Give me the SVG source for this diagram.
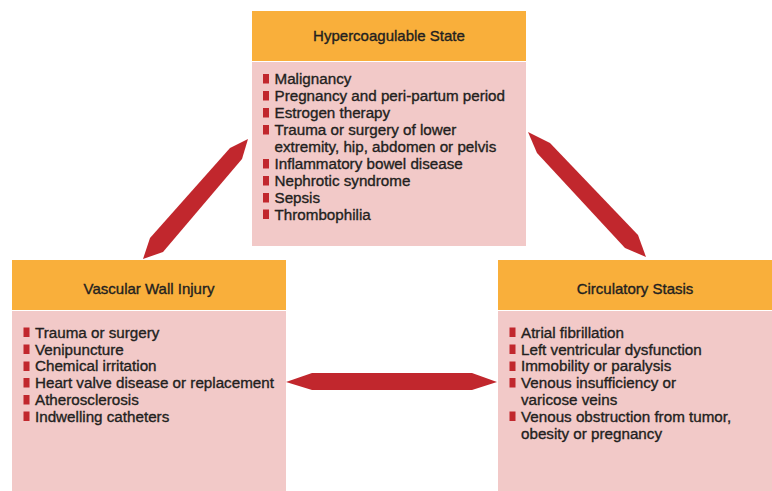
<svg xmlns="http://www.w3.org/2000/svg" width="772" height="491" viewBox="0 0 772 491">
<style>
.hd{fill:#F9AF3B}
.bd{fill:#F2C9C8}
.bl{fill:#C1272D}
.ar{fill:#C1272D}
text{font-family:"Liberation Sans",Arial,sans-serif;fill:#231F20;stroke:#231F20;stroke-width:0.35px}
.t{font-size:15px;text-anchor:middle}
.l{font-size:15.2px}
</style>
<rect width="772" height="491" fill="#ffffff"/>
<g id="connectors">
<polygon class="ar" points="248,139 230,148 150,238 143,259 163,252 242,159"/>
<polygon class="ar" points="528,132 550,143 638,235 646,257 625,248 537,153"/>
<polygon class="ar" points="286,382 312,373 472,373 497,382 472,390 312,390"/>
</g>
<g id="hypercoagulable">
<rect class="hd" x="252" y="11" width="274" height="50"/>
<rect class="bd" x="252" y="62" width="274" height="184"/>
<text class="t" x="389" y="40.5">Hypercoagulable State</text>
<rect class="bl" x="263" y="74" width="6" height="9.5"/>
<rect class="bl" x="263" y="91" width="6" height="9.5"/>
<rect class="bl" x="263" y="108" width="6" height="9.5"/>
<rect class="bl" x="263" y="125" width="6" height="9.5"/>
<rect class="bl" x="263" y="159" width="6" height="9.5"/>
<rect class="bl" x="263" y="176" width="6" height="9.5"/>
<rect class="bl" x="263" y="193" width="6" height="9.5"/>
<rect class="bl" x="263" y="209.5" width="6" height="9.5"/>
<text class="l" x="274.5" y="84">Malignancy</text>
<text class="l" x="274.5" y="101">Pregnancy and peri-partum period</text>
<text class="l" x="274.5" y="118">Estrogen therapy</text>
<text class="l" x="274.5" y="135">Trauma or surgery of lower</text>
<text class="l" x="274.5" y="152">extremity, hip, abdomen or pelvis</text>
<text class="l" x="274.5" y="169">Inflammatory bowel disease</text>
<text class="l" x="274.5" y="186">Nephrotic syndrome</text>
<text class="l" x="274.5" y="203">Sepsis</text>
<text class="l" x="274.5" y="219.5">Thrombophilia</text>
</g>
<g id="vascular">
<rect class="hd" x="12" y="260" width="274" height="50"/>
<rect class="bd" x="12" y="311" width="274" height="180"/>
<text class="t" x="149" y="293.5">Vascular Wall Injury</text>
<rect class="bl" x="23.5" y="327.5" width="6" height="9.5"/>
<rect class="bl" x="23.5" y="344.5" width="6" height="9.5"/>
<rect class="bl" x="23.5" y="361.5" width="6" height="9.5"/>
<rect class="bl" x="23.5" y="378" width="6" height="9.5"/>
<rect class="bl" x="23.5" y="395" width="6" height="9.5"/>
<rect class="bl" x="23.5" y="411.5" width="6" height="9.5"/>
<text class="l" x="35" y="337.7">Trauma or surgery</text>
<text class="l" x="35" y="354.5">Venipuncture</text>
<text class="l" x="35" y="371.3">Chemical irritation</text>
<text class="l" x="35" y="388.1">Heart valve disease or replacement</text>
<text class="l" x="35" y="404.9">Atherosclerosis</text>
<text class="l" x="35" y="421.7">Indwelling catheters</text>
</g>
<g id="stasis">
<rect class="hd" x="498" y="260" width="274" height="50"/>
<rect class="bd" x="498" y="311" width="274" height="180"/>
<text class="t" x="635" y="294">Circulatory Stasis</text>
<rect class="bl" x="509.5" y="327.5" width="6" height="9.5"/>
<rect class="bl" x="509.5" y="344.5" width="6" height="9.5"/>
<rect class="bl" x="509.5" y="361.5" width="6" height="9.5"/>
<rect class="bl" x="509.5" y="378" width="6" height="9.5"/>
<rect class="bl" x="509.5" y="411.5" width="6" height="9.5"/>
<text class="l" x="521" y="337.7">Atrial fibrillation</text>
<text class="l" x="521" y="354.5">Left ventricular dysfunction</text>
<text class="l" x="521" y="371.3">Immobility or paralysis</text>
<text class="l" x="521" y="388.1">Venous insufficiency or</text>
<text class="l" x="521" y="404.9">varicose veins</text>
<text class="l" x="521" y="421.7">Venous obstruction from tumor,</text>
<text class="l" x="521" y="438.5">obesity or pregnancy</text>
</g>
</svg>
